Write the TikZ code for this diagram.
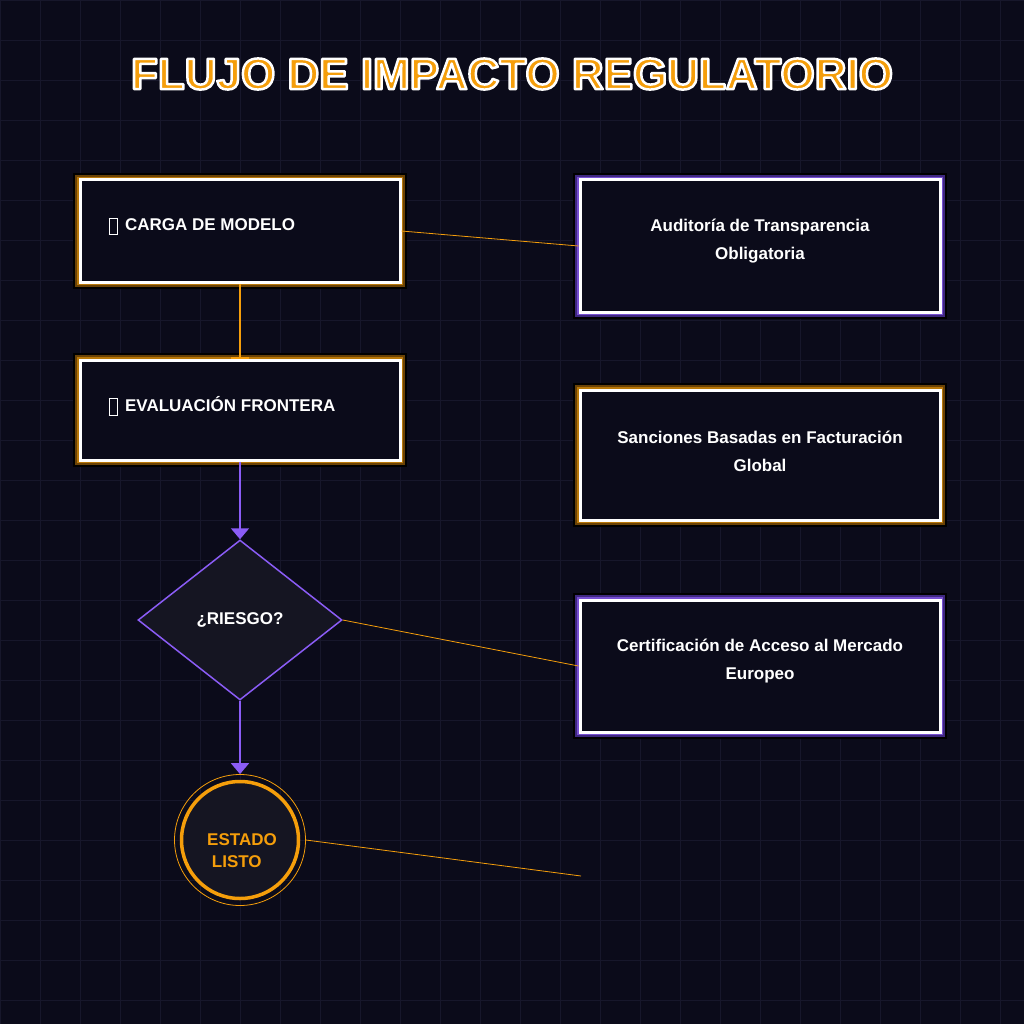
\documentclass[tikz,border=0pt]{standalone}
\usepackage{fontspec}
\setmainfont{Liberation Sans}
\usetikzlibrary{shapes.geometric,arrows.meta}
\definecolor{bg}{HTML}{0B0B1A}
\definecolor{gridc}{HTML}{17172B}
\definecolor{org}{HTML}{F59E0B}
\definecolor{orgd}{HTML}{6B4306}
\definecolor{pur}{HTML}{8B5CF6}
\definecolor{purd}{HTML}{3F2880}
\definecolor{fillc}{HTML}{151522}
\begin{document}
\begin{tikzpicture}[x=1pt,y=-1pt,
 txt/.style={text=white,font=\bfseries\fontsize{17}{28}\selectfont,align=center},
 glowo/.style={draw=black,line width=2pt,fill=orgd},
 glowp/.style={draw=black,line width=2pt,fill=purd},
 box/.style={draw=white,line width=3pt,fill=bg,minimum width=320pt,minimum height=102pt,anchor=center,inner sep=0pt},
 thin/.style={draw=org,line width=0.8pt}]
\useasboundingbox (0,0) rectangle (1024,1024);
\fill[bg] (0,0) rectangle (1024,1024);
\foreach \i in {0,40,...,1000}{\draw[gridc,line width=0.8pt] (\i,0)--(\i,1024); \draw[gridc,line width=0.8pt] (0,\i)--(1024,\i);}
% title
\node[font=\bfseries\fontsize{44}{50}\selectfont,text=org] (title) at (512,74) {\special{pdf:literal direct 2 Tr 2.5 w 1 j 1 1 1 RG}FLUJO DE IMPACTO REGULATORIO\special{pdf:literal direct 0 Tr}};
% glows
\draw[glowo] (74,174) rectangle (406,288);
\draw[org!75!black,line width=3pt] (78.5,178.5) rectangle (401.5,283.5);
\draw[glowo] (74,354) rectangle (406,466);
\draw[org!75!black,line width=3pt] (78.5,358.5) rectangle (401.5,461.5);
\draw[glowp] (574,174) rectangle (946,318);
\draw[pur!85!black,line width=3pt] (578.5,178.5) rectangle (941.5,313.5);
\draw[glowo] (574,384) rectangle (946,526);
\draw[org!75!black,line width=3pt] (578.5,388.5) rectangle (941.5,521.5);
\draw[glowp] (574,594) rectangle (946,738);
\draw[pur!85!black,line width=3pt] (578.5,598.5) rectangle (941.5,733.5);
% nodes
\node[box] (carga) at (240,231) {};
\node[txt,anchor=west] (cargat) at (105,226) {\framebox[9pt][c]{\rule{0pt}{10pt}}\, CARGA DE MODELO};
\node[box,minimum height=100pt] (eval) at (240,410) {};
\node[txt,anchor=west] (evalt) at (105,406) {\framebox[9pt][c]{\rule{0pt}{10pt}}\, EVALUACIÓN FRONTERA};
\node[box,minimum width=360pt,minimum height=132pt] (aud) at (760,246) {};
\node[txt] at (760,241) {Auditoría de Transparencia\\Obligatoria};
\node[box,minimum width=360pt,minimum height=130pt] (san) at (760,455) {};
\node[txt] at (760,451) {Sanciones Basadas en Facturación\\Global};
\node[box,minimum width=360pt,minimum height=132pt] (cert) at (760,666) {};
\node[txt] at (760,661) {Certificación de Acceso al Mercado\\Europeo};
\node[diamond,draw=pur,line width=1.5pt,fill=fillc,minimum width=204pt,minimum height=160pt,inner sep=0pt,txt] (ries) at (240,620) {¿RIESGO?};
\node[circle,draw=org,line width=0.8pt,minimum size=131pt,inner sep=0pt] (outer) at (240,840) {};
\node[circle,draw=org,line width=3.5pt,fill=fillc,minimum size=117pt,inner sep=0pt] (est) at (240,840) {};
\node[text=org,font=\bfseries\fontsize{17}{22}\selectfont,align=left] at (242,851) {ESTADO\\\ LISTO};
\coordinate (free) at (581,876);
% connectors
\draw[org,line width=2pt,-{Bar[width=18pt,line width=2pt]}] (carga.south) -- (eval.north);
\draw[pur,line width=2pt,-{Triangle[width=18pt,length=11pt]}] (eval.south) -- (ries.north);
\draw[pur,line width=2pt,-{Triangle[width=18pt,length=11pt]}] (ries.south) -- (outer.north);
\draw[thin] (carga.east) -- (aud.west);
\draw[thin] (ries.east) -- (cert.west);
\draw[thin] (outer.east) -- (free);
\end{tikzpicture}
\end{document}
